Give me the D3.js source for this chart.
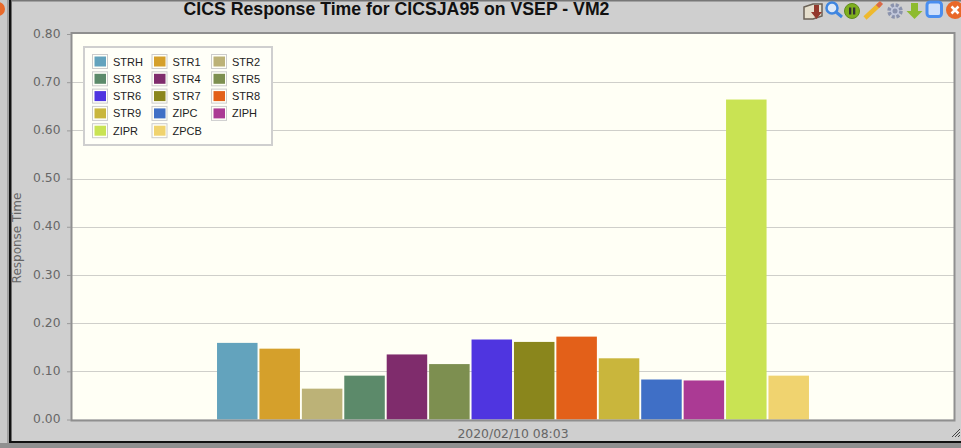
<!DOCTYPE html>
<html><head><meta charset="utf-8">
<script src="https://cdn.jsdelivr.net/npm/d3@7"></script>
<style>html,body{margin:0;padding:0;background:#cfcfcf;overflow:hidden}svg{display:block}text{font-family:"Liberation Sans",Arial,sans-serif}</style>
</head><body><div id="c"></div>
<script>
const titleText = "CICS Response Time for CICSJA95 on VSEP - VM2";
const yTitle = "Response Time";
const dateLabels = ["2020/02/10 08:03"];
const seriesNames = ["STRH","STR1","STR2","STR3","STR4","STR5","STR6","STR7","STR8","STR9","ZIPC","ZIPH","ZIPR","ZPCB"];
const seriesValues = [0.159,0.147,0.064,0.091,0.135,0.115,0.166,0.161,0.172,0.127,0.083,0.081,0.664,0.091];
const seriesColors = ["#63a3bd","#d5a02b","#bcb277","#5c8a6a","#7f2c6c","#7d8f50","#4f35e0","#8a861c","#e36019","#c9b63c","#3f6fc6","#ab3a94","#c9e353","#f0d36f"];
const yTicks = [0,0.1,0.2,0.3,0.4,0.5,0.6,0.7,0.8];

const W=961,H=448,L=72,R=954,T=34,B=419.5;
const svg=d3.select("#c").append("svg").attr("width",W).attr("height",H);
svg.append("rect").attr("width",W).attr("height",H).attr("fill","#cfcfcf");
// window frame
svg.append("rect").attr("x",0).attr("y",0).attr("width",7).attr("height",443).attr("fill","#c9c9c9");
svg.append("rect").attr("x",7).attr("y",0).attr("width",2).attr("height",443).attr("fill","#a0a0a0");
svg.append("rect").attr("x",9).attr("y",0).attr("width",2.5).attr("height",443).attr("fill","#111");
svg.append("rect").attr("x",9).attr("y",441).attr("width",W-9).attr("height",2).attr("fill","#111");
svg.append("rect").attr("x",0).attr("y",443).attr("width",W).attr("height",5).attr("fill","#909090");
svg.append("rect").attr("x",11.5).attr("y",0).attr("width",W).attr("height",1.5).attr("fill","#777");

const y=d3.scaleLinear().domain([0,0.8]).range([B,T]);
const x0=d3.scaleBand().domain(dateLabels).range([L,R]).paddingInner(0).paddingOuter(0.245);
const x1=d3.scaleBand().domain(seriesNames).range([x0(dateLabels[0]),x0(dateLabels[0])+x0.bandwidth()]).paddingInner(0.045).paddingOuter(0);

svg.append("rect").attr("x",L).attr("y",T).attr("width",R-L).attr("height",B-T).attr("fill","#fffff5");
svg.append("g").selectAll("line").data(yTicks.slice(1,-1)).join("line")
  .attr("x1",L).attr("x2",R).attr("y1",d=>Math.round(y(d))+.5).attr("y2",d=>Math.round(y(d))+.5)
  .attr("stroke","#cfcfca").attr("stroke-width",1);

// bars
svg.append("g").selectAll("rect").data(seriesNames).join("rect")
  .attr("x",d=>x1(d)).attr("width",x1.bandwidth())
  .attr("y",(d,i)=>y(seriesValues[i])).attr("height",(d,i)=>B-y(seriesValues[i]))
  .attr("fill",(d,i)=>seriesColors[i]);

// plot border
svg.append("path").attr("d",`M${L-0.5},${T-1}H${R+0.5}V${B+1}H${L-0.5}Z`).attr("fill","none").attr("stroke","#8f8f8f").attr("stroke-width",2);

// y axis
const ya=svg.append("g").attr("transform",`translate(${L-1},0)`)
  .call(d3.axisLeft(y).tickValues(yTicks).tickFormat(d3.format(".2f")).tickSize(4).tickPadding(6.5));
ya.select(".domain").remove();
ya.selectAll("line").attr("stroke","#9a9a9a");
ya.selectAll("text").attr("fill","#666").attr("dy","0.25em").style("font-size","12.3px").style("font-family","'DejaVu Sans'");

// x axis
const xa=svg.append("g").attr("transform",`translate(0,${B})`)
  .call(d3.axisBottom(x0).tickSize(0).tickPadding(10));
xa.select(".domain").remove();
xa.selectAll("text").attr("fill","#666").style("font-size","12.4px").style("font-family","'DejaVu Sans'");

svg.append("text").attr("transform","translate(20.5,238) rotate(-90)").attr("text-anchor","middle")
  .attr("fill","#666").style("font-size","12px").style("font-family","'DejaVu Sans'").text(yTitle);
svg.append("text").attr("x",396.5).attr("y",15).attr("text-anchor","middle").attr("fill","#111")
  .style("font-size","17.7px").style("font-weight","bold").text(titleText);

// legend
const lg=svg.append("g");
lg.append("rect").attr("x",84).attr("y",47).attr("width",188).attr("height",98).attr("fill","#fffff8").attr("stroke","#cfcfcf").attr("stroke-width",2);
const colStep=59.5,rowStep=17.3;
const item=lg.selectAll("g").data(seriesNames).join("g")
  .attr("transform",(d,i)=>`translate(${93+(i%3)*colStep},${61+Math.floor(i/3)*rowStep})`);
item.append("rect").attr("x",-0.5).attr("y",-6.5).attr("width",15).attr("height",14).attr("fill","#fffff8").attr("stroke","#ccc");
item.append("rect").attr("x",1.5).attr("y",-4.5).attr("width",11.5).attr("height",10).attr("fill",(d,i)=>seriesColors[i]);
item.append("text").attr("x",20).attr("y",4.5).attr("fill","#222").style("font-size","11px").text(d=>d);

// toolbar icons
const ic=svg.append("g");
ic.append("circle").attr("cx",-2).attr("cy",9).attr("r",7).attr("fill","#e8692a");
// folder with arrow
ic.append("path").attr("d","M804,7l9,-3h9v12l-9,3h-9z").attr("fill","#e6dfcd").attr("stroke","#6b6257").attr("stroke-width",1.5);
ic.append("path").attr("d","M814,5h5v7h3l-5.5,7l-5.5,-7h3z").attr("fill","#94392c");
// magnifier
ic.append("circle").attr("cx",832).attr("cy",8).attr("r",5.5).attr("fill","#dde9f8").attr("stroke","#3f86e0").attr("stroke-width",2.5);
ic.append("line").attr("x1",836).attr("y1",12).attr("x2",842).attr("y2",17).attr("stroke","#3f86e0").attr("stroke-width",3);
// pause
ic.append("circle").attr("cx",852).attr("cy",11).attr("r",7.5).attr("fill","#7faf1e").attr("stroke","#5f8c1a");
ic.append("rect").attr("x",849).attr("y",7.5).attr("width",2.3).attr("height",7).attr("fill","#333");
ic.append("rect").attr("x",853).attr("y",7.5).attr("width",2.3).attr("height",7).attr("fill","#333");
// pencil
ic.append("line").attr("x1",865).attr("y1",18).attr("x2",880).attr("y2",4).attr("stroke","#eeb92e").attr("stroke-width",4.5);
ic.append("line").attr("x1",877.5).attr("y1",6.5).attr("x2",881.5).attr("y2",2.5).attr("stroke","#d9694a").attr("stroke-width",4.5);
// gear
ic.append("circle").attr("cx",895).attr("cy",11).attr("r",6).attr("fill","#c3c9dc").attr("stroke","#8b93ad").attr("stroke-width",3.5).attr("stroke-dasharray","3 1.7");
ic.append("circle").attr("cx",895).attr("cy",11).attr("r",2.5).attr("fill","#8b93ad");
// down arrow
ic.append("path").attr("d","M911,3h7v8h4.5l-8,8l-8,-8h4.5z").attr("fill","#8ebb30");
// window
ic.append("rect").attr("x",927).attr("y",2).attr("width",14.5).attr("height",14.5).attr("rx",3).attr("fill","#cfe0fb").attr("stroke","#4a8ef0").attr("stroke-width",3);
// close
ic.append("circle").attr("cx",955).attr("cy",10).attr("r",9).attr("fill","#e8692a");
ic.append("path").attr("d","M951.5,6.5l7,7M958.5,6.5l-7,7").attr("stroke","#fff").attr("stroke-width",2.5);
// resize grip
svg.append("path").attr("d","M952,437l8,-8M955,437l5,-5M958,437l2,-2").attr("stroke","#444").attr("stroke-width",1);
</script></body></html>
